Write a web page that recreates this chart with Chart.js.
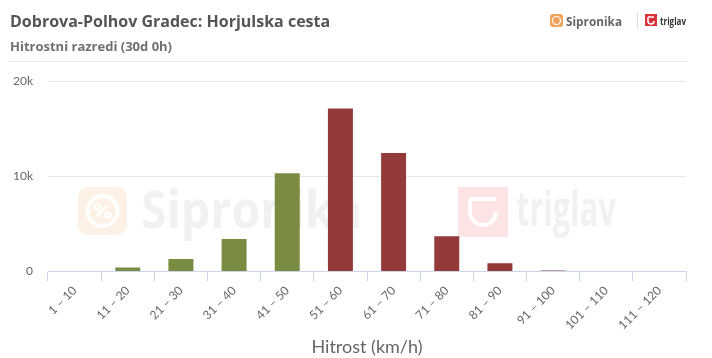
<!DOCTYPE html>
<html>
<head>
<meta charset="utf-8">
<script src="https://cdn.jsdelivr.net/npm/chart.js@4.4.1/dist/chart.umd.min.js"></script>
<style>
  html, body { margin: 0; padding: 0; background: #fff; }
  #wrap { width: 712px; height: 358px; position: relative; }
</style>
</head>
<body>
<div id="wrap"><canvas id="graf"></canvas></div>
<script>
// podatki
const razredi = ["1 – 10", "11 – 20", "21 – 30", "31 – 40", "41 – 50", "51 – 60",
  "61 – 70", "71 – 80", "81 – 90", "91 – 100", "101 – 110", "111 – 120"];
const vozila = [0, 400, 1300, 3400, 10300, 17100, 12450, 3700, 850, 100, 0, 0];
const zgornjeMeje = [10, 20, 30, 40, 50, 60, 70, 80, 90, 100, 110, 120];
const omejitev = 50;
const yTicks = [0, 10000, 20000];

const naslov = "Dobrova-Polhov Gradec: Horjulska cesta";
const podnaslov = "Hitrostni razredi (30d 0h)";

const zelena = "#7a8c41";
const rdeca = "#953a3a";

// besedilo raztegnjeno na dano sirino
function napisNaSirino(c, txt, x, y, w) {
  const m = c.measureText(txt).width;
  c.save();
  c.translate(x, y);
  c.scale(w / m, 1);
  c.fillText(txt, 0, 0);
  c.restore();
}

// glava in vodni znaki
const glava = {
  id: "glava",
  beforeDraw(chart) {
    const c = chart.ctx;
    c.save();
    c.fillStyle = "#fff";
    c.fillRect(0, 0, chart.width, chart.height);
    c.textBaseline = "alphabetic";
    c.fillStyle = "#555";
    c.font = "bold 16px 'Open Sans'";
    c.fillText(naslov, 10, 27);
    c.fillStyle = "#707070";
    c.font = "bold 13px 'Open Sans'";
    c.fillText(podnaslov, 10, 51);
    // crta pod glavo
    c.strokeStyle = "#e8e8e8";
    c.lineWidth = 1;
    c.beginPath();
    c.moveTo(8, 61.5);
    c.lineTo(688, 61.5);
    c.stroke();

    // logo sipronika
    c.fillStyle = "#f0a35a";
    c.beginPath();
    c.roundRect(550, 14, 13, 13, 3);
    c.fill();
    c.strokeStyle = "#fff";
    c.lineWidth = 1.2;
    c.beginPath();
    c.arc(556.5, 20.5, 4, 0, Math.PI * 2);
    c.stroke();
    c.fillStyle = "#666";
    c.font = "bold 13px 'Open Sans'";
    napisNaSirino(c, "Sipronika", 566, 26, 56);
    c.strokeStyle = "#e0e0e0";
    c.beginPath();
    c.moveTo(637.5, 12);
    c.lineTo(637.5, 29);
    c.stroke();
    c.fillStyle = "#d9343b";
    c.fillRect(645, 14, 12, 12);
    c.strokeStyle = "#fff";
    c.lineWidth = 1.5;
    c.beginPath();
    c.moveTo(648, 17);
    c.lineTo(654, 17);
    c.moveTo(648, 17);
    c.lineTo(648, 21);
    c.arc(651, 21, 3, Math.PI, 0, true);
    c.stroke();
    c.fillStyle = "#333";
    c.font = "bold 11px 'Open Sans'";
    napisNaSirino(c, "triglav", 660, 25, 26);
    c.restore();
  },
  beforeDatasetsDraw(chart) {
    const c = chart.ctx;
    c.save();
    // sipronika vodni znak
    c.fillStyle = "#fdf1e6";
    c.beginPath();
    c.roundRect(78, 187, 49, 48, 10);
    c.fill();
    c.strokeStyle = "#ffffff";
    c.lineWidth = 4;
    c.beginPath();
    c.arc(102.5, 211, 15, 0, Math.PI * 2);
    c.stroke();
    c.lineWidth = 2.5;
    c.beginPath();
    c.moveTo(97, 216);
    c.lineTo(108, 205);
    c.moveTo(99.5, 207);
    c.arc(97, 207, 2.5, 0, Math.PI * 2);
    c.moveTo(110.5, 215);
    c.arc(108, 215, 2.5, 0, Math.PI * 2);
    c.stroke();
    c.fillStyle = "#f1f1f1";
    c.font = "bold 52px 'Open Sans'";
    napisNaSirino(c, "Sipronika", 141, 228, 221);
    // triglav vodni znak
    c.fillStyle = "#fde4e4";
    c.fillRect(458, 187, 50, 50);
    c.strokeStyle = "#fff";
    c.lineWidth = 4;
    c.beginPath();
    c.moveTo(470, 199);
    c.lineTo(496, 199);
    c.moveTo(470, 199);
    c.lineTo(470, 212);
    c.arc(483, 212, 13, Math.PI, 0, true);
    c.stroke();
    c.fillStyle = "#f1f1f1";
    c.font = "bold 48px 'Open Sans'";
    napisNaSirino(c, "triglav", 516, 226, 100);
    c.restore();
  }
};

const ctx = document.getElementById("graf").getContext("2d");

const graf = new Chart(ctx, {
  type: "bar",
  data: {
    labels: razredi,
    datasets: [{
      data: vozila,
      backgroundColor: zgornjeMeje.map(m => m <= omejitev ? zelena : rdeca),
      barPercentage: 0.47,
      categoryPercentage: 1
    }]
  },
  options: {
    responsive: true,
    maintainAspectRatio: false,
    animation: false,
    layout: { padding: { top: 81, left: 12, right: 26, bottom: 0 } },
    plugins: {
      legend: { display: false },
      tooltip: { enabled: false }
    },
    scales: {
      x: {
        afterFit(axis) {
          axis.paddingLeft = 0;
          axis.paddingRight = 0;
        },
        grid: {
          offset: true,
          drawOnChartArea: false,
          drawTicks: true,
          tickLength: 10,
          color: "#ccd6eb"
        },
        border: { color: "#ccd6eb" },
        ticks: {
          minRotation: 45,
          maxRotation: 45,
          padding: 2,
          color: "#666",
          font: { family: "Lato", size: 12 }
        },
        title: {
          display: true,
          text: "Hitrost (km/h)",
          color: "#666",
          font: { family: "Lato", size: 18 },
          padding: { top: 2, bottom: 0 }
        }
      },
      y: {
        min: 0,
        max: 20000,
        afterBuildTicks(axis) {
          axis.ticks = yTicks.map(v => ({ value: v }));
        },
        afterFit(axis) {
          axis.width = 36;
        },
        grid: { color: "#e6e6e6", drawTicks: false },
        border: { display: false },
        ticks: {
          padding: 15,
          color: "#666",
          font: { family: "Lato", size: 12 },
          callback: v => v === 0 ? "0" : (v / 1000) + "k"
        }
      }
    }
  },
  plugins: [glava]
});
</script>
</body>
</html>
